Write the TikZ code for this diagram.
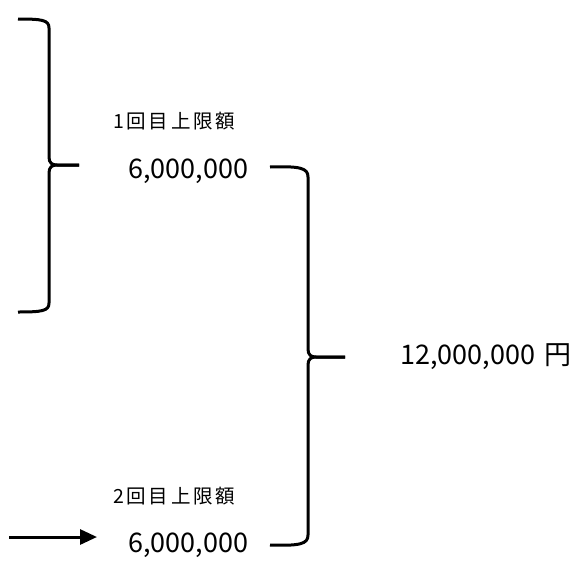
\documentclass[tikz,border=0pt]{standalone}
\usepackage{fontspec}
\setmainfont{Noto Sans CJK JP}
\newfontfamily\labfont[LetterSpace=14]{Noto Sans CJK JP}
\usetikzlibrary{arrows.meta}
\begin{document}
\begin{tikzpicture}[x=1pt,y=-1pt,
  brace/.style={line width=3pt,line cap=butt,line join=round},
  big/.style={font=\fontsize{27}{30}\selectfont,inner sep=0pt,anchor=base west},
  lab/.style={font=\labfont\fontsize{19.5}{22}\selectfont,inner sep=0pt,anchor=base west},
  arr/.style={line width=3pt,-{Triangle[length=17pt,width=15pt]}}
]
\useasboundingbox (0,0) rectangle (572,562);
% texts
\node[lab] (l1) at (113,128) {1回目上限額};
\node[big] (v1) at (128,178) {6,000,000};
\node[lab] (l2) at (113,503) {2回目上限額};
\node[big] (v2) at (128,552) {6,000,000};
\node[big] (tot) at (400,364) {12,000,000\hspace{3pt} 円};
% left brace
\coordinate (lt) at (18,19);
\coordinate (lb) at (18,312);
\coordinate (ltip) at (79,165);
\draw[brace] (lt) .. controls (42,19) and (49,20) .. (49,28) -- (49,157)
  .. controls (49,163) and (52,165) .. (57,165) -- (ltip);
\draw[brace] (lb) .. controls (42,312) and (49,311) .. (49,303) -- (49,173)
  .. controls (49,167) and (52,165) .. (57,165) -- (ltip);
% right brace
\coordinate (rt) at (270,167);
\coordinate (rb) at (270,545);
\coordinate (rtip) at (345,357);
\draw[brace] (rt) .. controls (300,166) and (308,168) .. (308,177) -- (308,349)
  .. controls (308,355) and (311,357) .. (316,357) -- (rtip);
\draw[brace] (rb) .. controls (300,546) and (308,544) .. (308,535) -- (308,365)
  .. controls (308,359) and (311,357) .. (316,357) -- (rtip);
% arrow
\coordinate (as) at (9,537);
\coordinate (ae) at (97,537);
\draw[arr] (as) -- (ae);
\end{tikzpicture}
\end{document}
